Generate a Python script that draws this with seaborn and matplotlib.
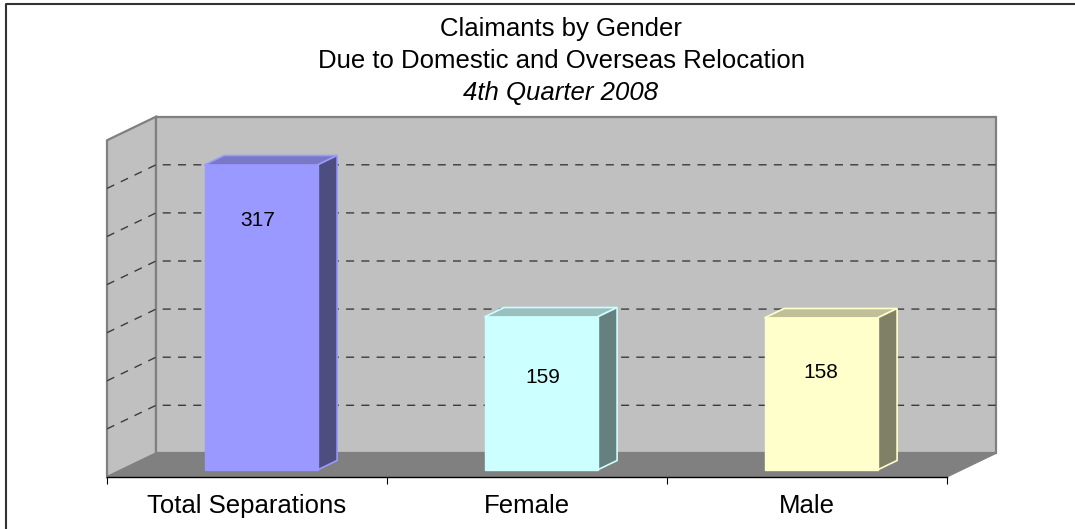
import matplotlib
matplotlib.use("Agg")
import matplotlib.pyplot as plt
import pandas as pd
import seaborn as sns
from matplotlib.lines import Line2D
from matplotlib.patches import Polygon

categories = ["Total Separations", "Female", "Male"]
values = [317, 159, 158]
grid_values = [50, 100, 150, 200, 250, 300]
y_max = 350
front_colors = ["#9999FF", "#CCFFFF", "#FFFFCC"]
top_colors = ["#7878C4", "#99BFBF", "#BFBF99"]
side_colors = ["#4D4D80", "#668080", "#808066"]
title_lines = ["Claimants by Gender", "Due to Domestic and Overseas Relocation", "4th Quarter 2008"]

W, H = 1075, 529
CAT_PX = 280.0
VAL_PX = 0.962
DEPTH_X = 49 / CAT_PX
DEPTH_Y = 23.6 / VAL_PX
FLOOR_FRONT = 0.30   # bar front plane sits this far behind the floor's front edge
BAR_DEPTH = 0.40
SHIFT = 14 / CAT_PX
LEFT = -0.5 - SHIFT
RIGHT = 2.5 - SHIFT
BOTTOM = -FLOOR_FRONT * DEPTH_Y


def pt(x, v, t):
    # t is the depth from the floor's front edge (0) to the back wall (1)
    return (x + t * DEPTH_X, v + BOTTOM + t * DEPTH_Y)


sns.set_theme(style="white")
plt.rcParams["font.family"] = ["Liberation Sans", "DejaVu Sans"]

fig = plt.figure(figsize=(W / 100, H / 100), dpi=100)
ax = fig.add_axes([107 / W, (H - 477) / H, 840 / W, (477 - 141) / H])
df = pd.DataFrame({"category": categories, "value": values})
sns.barplot(data=df, x="category", y="value", hue="category", palette=front_colors,
            width=113 / CAT_PX, legend=False, ax=ax, zorder=5, saturation=1,
            edgecolor=None, linewidth=0)
ax.set_xlim(LEFT, RIGHT)
ax.set_ylim(BOTTOM, BOTTOM + (477 - 141) / VAL_PX)
ax.set_xlabel("")
ax.set_ylabel("")
ax.set_yticks([])

# walls and floor
wall_kw = dict(facecolor="#C0C0C0", edgecolor="#808080", linewidth=1.6, clip_on=False, zorder=1)
ax.add_patch(Polygon([pt(LEFT, 0, 0), pt(LEFT, y_max, 0), pt(LEFT, y_max, 1), pt(LEFT, 0, 1)], **wall_kw))
ax.add_patch(Polygon([pt(LEFT, 0, 1), pt(LEFT, y_max, 1), pt(RIGHT, y_max, 1), pt(RIGHT, 0, 1)], **wall_kw))
ax.add_patch(Polygon([pt(LEFT, 0, 0), pt(RIGHT, 0, 0), pt(RIGHT, 0, 1), pt(LEFT, 0, 1)],
                     facecolor="#808080", edgecolor="#808080", linewidth=0.8, clip_on=False, zorder=2))

for g in grid_values:
    a, b, c = pt(LEFT, g, 0), pt(LEFT, g, 1), pt(RIGHT, g, 1)
    ax.plot([a[0], b[0], c[0]], [a[1], b[1], c[1]], color="#3C3C3C", lw=1.0,
            dashes=(5.8, 5.2), clip_on=False, zorder=3)

# 3D faces of each bar, taken from the bars seaborn drew
for i, bar in enumerate(ax.patches[:len(values)]):
    x0, x1 = bar.get_x(), bar.get_x() + bar.get_width()
    v = bar.get_height()
    edge = front_colors[i]
    dx, dy = BAR_DEPTH * DEPTH_X, BAR_DEPTH * DEPTH_Y
    bar.set_edgecolor(edge)
    bar.set_linewidth(1.0)
    ax.add_patch(Polygon([(x0, v), (x1, v), (x1 + dx, v + dy), (x0 + dx, v + dy)],
                         facecolor=top_colors[i], edgecolor=edge, linewidth=1.2, zorder=4))
    ax.add_patch(Polygon([(x1, 0), (x1, v), (x1 + dx, v + dy), (x1 + dx, dy)],
                         facecolor=side_colors[i], edgecolor=edge, linewidth=1.2, zorder=4))

label_offsets = [(-3, -56), (2, -61), (0, -55)]
for i, val in enumerate(values):
    ax.annotate(str(val), (i, val), xytext=(label_offsets[i][0] * 0.72, label_offsets[i][1] * 0.72),
                textcoords="offset points", ha="center", va="center", fontsize=15, color="black", zorder=6)

# category axis runs along the floor's front edge, labels centred between ticks
for s in ["left", "right", "top"]:
    ax.spines[s].set_visible(False)
ax.spines["bottom"].set_color("black")
ax.spines["bottom"].set_linewidth(1.0)
ax.spines["bottom"].set_zorder(7)
ax.set_xticks([LEFT + i for i in range(4)])
ax.set_xticklabels([])
ax.set_xticks([LEFT + 0.5 + i for i in range(3)], minor=True)
ax.set_xticklabels(categories, minor=True, fontsize=18.5, color="black")
ax.tick_params(axis="x", which="major", length=5, width=0.8, color="black", bottom=True)
ax.tick_params(axis="x", which="minor", length=0, pad=12)

title_y = [29, 61, 93]
for i, line in enumerate(title_lines):
    fig.text(561 / W, (H - title_y[i]) / H, line, ha="center", va="center", fontsize=18.5,
             style="italic" if i == 2 else "normal", color="black")

# chart frame: only the top and left edges fall inside the picture
fig.add_artist(Line2D([6 / W, 6 / W, 1], [0, (H - 4) / H, (H - 4) / H], color="#333333", lw=1.5))

fig.savefig("out.png", dpi=100)
